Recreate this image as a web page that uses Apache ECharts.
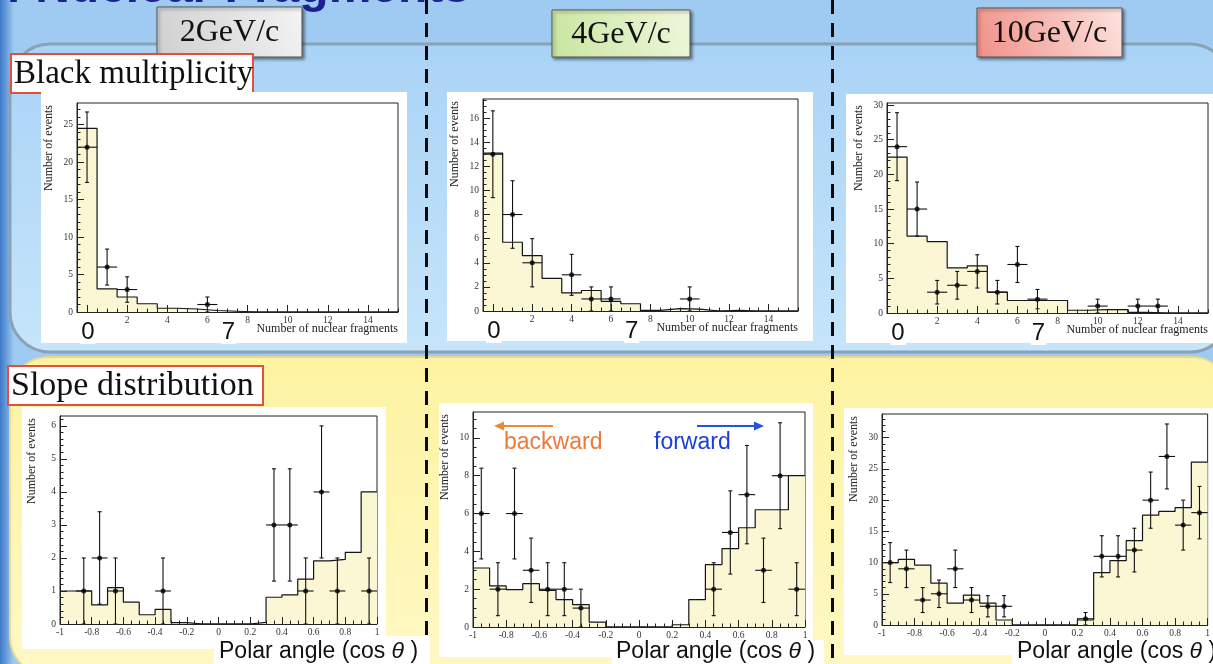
<!DOCTYPE html>
<html><head><meta charset="utf-8">
<script src="https://cdn.jsdelivr.net/npm/echarts@6/dist/echarts.min.js"></script>
<style>html,body{margin:0;padding:0;background:#9fcaf2;}#c{width:1213px;height:664px;}</style>
</head><body><div id="c"></div>
<script>
// ---------------- DATA ----------------
// Black multiplicity: bins of the number of nuclear fragments
const multBins = [0,1,2,3,4,5,6,7,8,9,10,11,12,13,14,15];
const mc2GeV  = [24.5,3.1,2.0,1.1,0.5,0.4,0.2,0.1,0,0,0,0,0,0,0,0];
const mc4GeV  = [13.1,5.7,4.6,2.7,1.5,1.7,0.8,0.6,0.05,0.2,0.15,0,0.05,0,0,0];
const mc10GeV = [22.5,11.1,10.3,6.5,6.8,3.0,1.8,1.8,1.8,0.4,0.5,0.5,0.1,0,0,0];
const obs2GeVX = [0,1,2,6];
const obs2GeVY = [22,6,3,1];
const obs2GeVErr = [4.7,2.4,1.7,1.0];
const obs4GeVX = [0,1,2,4,5,6,10];
const obs4GeVY = [13,8,4,3,1,1,1];
const obs4GeVErr = [3.6,2.8,2.0,1.7,1.0,1.0,1.0];
const obs10GeVX = [0,1,2,3,4,5,6,7,10,12,13];
const obs10GeVY = [24,15,3,4,6,3,7,2,1,1,1];
const obs10GeVErr = [4.9,3.9,1.7,2.0,2.4,1.7,2.6,1.4,1.0,1.0,1.0];

// Slope distribution: bins of cos(theta)
const cosBins = [-0.95,-0.85,-0.75,-0.65,-0.55,-0.45,-0.35,-0.25,-0.15,-0.05,0.05,0.15,0.25,0.35,0.45,0.55,0.65,0.75,0.85,0.95];
const slope2GeV  = [1.0,1.0,0.58,1.1,0.66,0.28,0.44,0.04,0,0,0,0,0.05,0.81,0.88,1.36,1.91,1.96,2.17,4.0];
const slope4GeV  = [3.12,2.17,1.98,2.29,1.94,1.45,1.18,0.26,0,0,0,0,0.12,1.45,3.3,4.15,5.25,6.2,6.2,8.0];
const slope10GeV = [10.0,10.5,9.6,6.7,3.5,4.8,3.5,0.8,0,0,0,0,0.8,8.4,10.3,13.5,17.6,18.2,18.8,26.1];
const sObs2GeVX = [-0.85,-0.75,-0.65,-0.35,0.35,0.45,0.55,0.65,0.75,0.95];
const sObs2GeVY = [1,2,1,1,3,3,1,4,1,1];
const sObs2GeVErr = [1,1.4,1,1,1.7,1.7,1,2,1,1];
const sObs4GeVX = [-0.95,-0.85,-0.75,-0.65,-0.55,-0.45,-0.35,0.45,0.55,0.65,0.75,0.85,0.95];
const sObs4GeVY = [6,2,6,3,2,2,1,2,5,7,3,8,2];
const sObs4GeVErr = [2.4,1.4,2.4,1.7,1.4,1.4,1,1.4,2.2,2.6,1.7,2.8,1.4];
const sObs10GeVX = [-0.95,-0.85,-0.75,-0.65,-0.55,-0.45,-0.35,-0.25,0.25,0.35,0.45,0.55,0.65,0.75,0.85,0.95];
const sObs10GeVY = [10,9,4,5,9,4,3,3,1,11,11,12,20,27,16,18];
const sObs10GeVErr = [3.2,3.0,2.0,2.2,3.0,2.0,1.7,1.7,1.0,3.3,3.3,3.5,4.5,5.2,4.0,4.2];

// Tick labels
const multXTicks = [0,2,4,6,8,10,12,14];
const multXLabels = [2,4,6,8,10,12,14];
const cosXTicks = [-1,-0.8,-0.6,-0.4,-0.2,0,0.2,0.4,0.6,0.8,1];
const cosXLabels = [-1,-0.8,-0.6,-0.4,-0.2,0,0.2,0.4,0.6,0.8,1];
const yTicks2GeV = [0,5,10,15,20,25];
const yTicks4GeV = [0,2,4,6,8,10,12,14,16];
const yTicks10GeV = [0,5,10,15,20,25,30];
const yTicksS2GeV = [0,1,2,3,4,5,6];
const yTicksS4GeV = [0,2,4,6,8,10];
const yTicksS10GeV = [0,5,10,15,20,25,30];
const bigMarks = [0,7];
const energyLabels = ['2GeV/c','4GeV/c','10GeV/c'];

// ---------------- LAYOUT ----------------
const panels = [
  {g:{left:77,top:103,width:321,height:209}, white:[41,92,366,251], xr:[-0.5,15.5], yMax:27.9, xMinor:0.5, yMinor:1,
   bins:multBins, w:1, mc:mc2GeV, ox:obs2GeVX, oy:obs2GeVY, oe:obs2GeVErr, xt:multXTicks, xl:multXLabels, yt:yTicks2GeV, kind:'m'},
  {g:{left:483,top:99,width:315,height:212}, white:[447,92,366,249], xr:[-0.5,15.5], yMax:17.58, xMinor:0.5, yMinor:0.5,
   bins:multBins, w:1, mc:mc4GeV, ox:obs4GeVX, oy:obs4GeVY, oe:obs4GeVErr, xt:multXTicks, xl:multXLabels, yt:yTicks4GeV, kind:'m'},
  {g:{left:887,top:103,width:321,height:210}, white:[846,94,367,249], xr:[-0.5,15.5], yMax:30.3, xMinor:0.5, yMinor:1,
   bins:multBins, w:1, mc:mc10GeV, ox:obs10GeVX, oy:obs10GeVY, oe:obs10GeVErr, xt:multXTicks, xl:multXLabels, yt:yTicks10GeV, kind:'m'},
  {g:{left:60,top:416,width:317,height:208}, white:[22,407,364,242], xr:[-1,1], yMax:6.3, xMinor:0.05, yMinor:0.2,
   bins:cosBins, w:0.1, mc:slope2GeV, ox:sObs2GeVX, oy:sObs2GeVY, oe:sObs2GeVErr, xt:cosXTicks, xl:cosXLabels, yt:yTicksS2GeV, kind:'s', lab:[214,636,216,28], labX:219},
  {g:{left:473,top:412,width:332,height:215}, white:[439,403,374,254], xr:[-1,1], yMax:11.37, xMinor:0.05, yMinor:0.5,
   bins:cosBins, w:0.1, mc:slope4GeV, ox:sObs4GeVX, oy:sObs4GeVY, oe:sObs4GeVErr, xt:cosXTicks, xl:cosXLabels, yt:yTicksS4GeV, kind:'s', lab:[612,640,212,24], labX:616},
  {g:{left:882,top:414,width:326,height:211}, white:[844,408,369,247], xr:[-1,1], yMax:33.8, xMinor:0.05, yMinor:1,
   bins:cosBins, w:0.1, mc:slope10GeV, ox:sObs10GeVX, oy:sObs10GeVY, oe:sObs10GeVErr, xt:cosXTicks, xl:cosXLabels, yt:yTicksS10GeV, kind:'s', lab:[1012,638,201,26], labX:1017}
];

const SERIF = '"Liberation Serif","DejaVu Serif",serif';
const SANS = '"Liberation Sans",Arial,sans-serif';

function range(a, b, step) { const r = []; const n = Math.round((b - a) / step); for (let k = 0; k <= n; k++) r.push(+(a + k * step).toFixed(4)); return r; }
function stepData(centers, vals, w) { const d = []; centers.forEach((c, i) => { d.push([c - w / 2, vals[i]]); d.push([c + w / 2, vals[i]]); }); return d; }

const grids = [], xAxes = [], yAxes = [], series = [], graphics = [];

// slide background decorations
graphics.push({type:'rect', z:-30, shape:{x:0,y:0,width:14,height:664},
  style:{fill:new echarts.graphic.LinearGradient(0,0,1,0,[{offset:0,color:'#3b78c6'},{offset:1,color:'#9fcaf2'}])}});
graphics.push({type:'rect', z:-29, shape:{x:10,y:44,width:1220,height:308,r:40},
  style:{fill:new echarts.graphic.LinearGradient(0,0,0,1,[{offset:0,color:'#a9d3f6'},{offset:1,color:'#c6e5fb'}]), stroke:'#8aa2b6', lineWidth:3}});
graphics.push({type:'rect', z:-28, shape:{x:10,y:357,width:1220,height:318,r:38},
  style:{fill:new echarts.graphic.LinearGradient(0,0,0,1,[{offset:0,color:'#fdf3a2'},{offset:1,color:'#fff8c4'}]), stroke:'#e4da94', lineWidth:2}});
[426.5, 832.5].forEach(x => graphics.push({type:'line', z:-20, shape:{x1:x,y1:0,x2:x,y2:664},
  style:{stroke:'#0a0a0a', lineWidth:3, lineDash:[14,9]}}));

// title (cut off at the top of the slide)
graphics.push({type:'text', z:-19, style:{text:'Angular Distributions of Nuclear Fragments', x:470, y:13, textAlign:'right', textVerticalAlign:'bottom',
  font:'bold 48px ' + SANS, fill:'#1c2390'}});

// energy labels
const eBoxes = [[157,7,145,50,'#cfcfcf','#f3f3f3'],[552,10,138,47,'#c9e5a0','#eef8dc'],[977,8,145,49,'#f09088','#fde2de']];
energyLabels.forEach((t, i) => {
  const b = eBoxes[i];
  graphics.push({type:'rect', z:-10, shape:{x:b[0],y:b[1],width:b[2],height:b[3]},
    style:{fill:new echarts.graphic.LinearGradient(0,1,1,0,[{offset:0,color:b[4]},{offset:1,color:b[5]}]), stroke:'#555', lineWidth:1,
      shadowBlur:3, shadowOffsetX:2, shadowOffsetY:2, shadowColor:'rgba(0,0,0,0.45)'}});
  graphics.push({type:'text', z:-9, style:{text:t, x:b[0]+b[2]/2, y:b[1]+b[3]/2+1, textAlign:'center', textVerticalAlign:'middle',
    font:'32px ' + SERIF, fill:'#111'}});
});

// section labels
[['Black multiplicity',11,54,242,39,33],['Slope distribution',8,366,255,39,34]].forEach(s => {
  graphics.push({type:'rect', z:-10, shape:{x:s[1],y:s[2],width:s[3],height:s[4]}, style:{fill:'#fff', stroke:'#e0503c', lineWidth:2}});
  graphics.push({type:'text', z:-9, style:{text:s[0], x:s[1]+3, y:s[2]+s[4]/2+1, textAlign:'left', textVerticalAlign:'middle',
    font:s[5] + 'px ' + SERIF, fill:'#111'}});
});

panels.forEach((p, i) => {
  grids.push(Object.assign({show:true, borderColor:'#222', borderWidth:1, backgroundColor:'transparent'}, p.g));
  const wb = p.white;
  graphics.push({type:'rect', z:-8, shape:{x:wb[0],y:wb[1],width:wb[2],height:wb[3]}, style:{fill:'#fff'}});
  if (p.lab) graphics.push({type:'rect', z:-8, shape:{x:p.lab[0],y:p.lab[1],width:p.lab[2],height:p.lab[3]}, style:{fill:'#fff'}});

  const xi = xAxes.length, yi = yAxes.length;
  const labelStyle = {fontFamily:SERIF, fontSize:9.5, color:'#333'};
  xAxes.push({type:'value', gridIndex:i, min:p.xr[0], max:p.xr[1], position:'bottom', z:5,
    axisLine:{show:true, onZero:false, lineStyle:{color:'#222', width:1}},
    axisTick:{show:true, inside:true, length:7, customValues:p.xt, lineStyle:{color:'#222', width:1}},
    axisLabel:Object.assign({show:true, customValues:p.xl, margin:3, formatter:v => String(v)}, labelStyle),
    splitLine:{show:false}});
  xAxes.push({type:'value', gridIndex:i, min:p.xr[0], max:p.xr[1], position:'bottom', offset:0, z:5,
    axisLine:{show:false, onZero:false}, axisLabel:{show:false}, splitLine:{show:false},
    axisTick:{show:true, inside:true, length:3.5, customValues:range(p.xr[0], p.xr[1], p.xMinor), lineStyle:{color:'#222', width:1}}});
  yAxes.push({type:'value', gridIndex:i, min:0, max:p.yMax, position:'left', z:5,
    axisLine:{show:true, onZero:false, lineStyle:{color:'#222', width:1}},
    axisTick:{show:true, inside:true, length:7, customValues:p.yt, lineStyle:{color:'#222', width:1}},
    axisLabel:Object.assign({show:true, customValues:p.yt, margin:4, formatter:v => String(v)}, labelStyle),
    splitLine:{show:false}});
  yAxes.push({type:'value', gridIndex:i, min:0, max:p.yMax, position:'left', offset:0, z:5,
    axisLine:{show:false, onZero:false}, axisLabel:{show:false}, splitLine:{show:false},
    axisTick:{show:true, inside:true, length:3.5, customValues:range(0, Math.floor(p.yMax / p.yMinor) * p.yMinor, p.yMinor), lineStyle:{color:'#222', width:1}}});

  // MC histogram (filled step outline)
  series.push({type:'line', xAxisIndex:xi, yAxisIndex:yi, data:stepData(p.bins, p.mc, p.w), showSymbol:false, symbol:'none',
    lineStyle:{color:'#151515', width:1.2}, areaStyle:{color:'#fbf6d4', opacity:1}, z:2, silent:true});
  // error bars
  const hw = p.w / 2;
  series.push({type:'custom', xAxisIndex:xi, yAxisIndex:yi, z:3, silent:true,
    data:p.ox.map((x, k) => [x, p.oy[k], p.oe[k]]),
    renderItem:(params, api) => {
      const x = api.value(0), y = api.value(1), e = api.value(2);
      const t = api.coord([x, y + e]), b = api.coord([x, Math.max(0, y - e)]);
      const l = api.coord([x - hw, y]), r = api.coord([x + hw, y]);
      const st = {stroke:'#111', lineWidth:1.1};
      return {type:'group', children:[
        {type:'line', shape:{x1:t[0],y1:t[1],x2:b[0],y2:b[1]}, style:st},
        {type:'line', shape:{x1:l[0],y1:l[1],x2:r[0],y2:r[1]}, style:st},
        {type:'line', shape:{x1:t[0]-2,y1:t[1],x2:t[0]+2,y2:t[1]}, style:st},
        {type:'line', shape:{x1:b[0]-2,y1:b[1],x2:b[0]+2,y2:b[1]}, style:st}
      ]};
    }});
  // data points
  series.push({type:'scatter', xAxisIndex:xi, yAxisIndex:yi, z:4, symbol:'circle', symbolSize:5, silent:true,
    itemStyle:{color:'#000'}, data:p.ox.map((x, k) => [x, p.oy[k]])});

  // axis titles
  const g = p.g;
  graphics.push({type:'text', z:10, x:g.left - 28, y:g.top + 2, rotation:Math.PI / 2,
    style:{text:'Number of events', x:0, y:0, textAlign:'right', textVerticalAlign:'middle', font:'12px ' + SERIF, fill:'#222'}});
  if (p.kind === 'm') {
    graphics.push({type:'text', z:10, style:{text:'Number of nuclear fragments', x:g.left + g.width, y:g.top + g.height + 17,
      textAlign:'right', textVerticalAlign:'middle', font:'12px ' + SERIF, fill:'#222'}});
    bigMarks.forEach(v => {
      const px = g.left + (v - p.xr[0]) / (p.xr[1] - p.xr[0]) * g.width;
      graphics.push({type:'text', z:11, style:{text:String(v), x:px + 1, y:g.top + g.height + 20, textAlign:'center', textVerticalAlign:'middle',
        font:'24px ' + SANS, fill:'#111', backgroundColor:'#fff', padding:[0,1]}});
    });
  } else {
    graphics.push({type:'text', z:11, style:{text:'{a|Polar angle (cos }{t|θ}{a| )}', x:p.labX, y:652, textAlign:'left', textVerticalAlign:'middle',
      rich:{a:{font:'23px ' + SANS, fill:'#111'}, t:{font:'italic 23px ' + SANS, fill:'#111'}}}});
  }
});

// backward / forward annotations in the 4 GeV/c slope plot
graphics.push({type:'line', z:12, shape:{x1:553,y1:426,x2:500,y2:426}, style:{stroke:'#f08a30', lineWidth:2}});
graphics.push({type:'polygon', z:12, shape:{points:[[494,426],[504,421.5],[504,430.5]]}, style:{fill:'#f08a30'}});
graphics.push({type:'text', z:12, style:{text:'backward', x:504, y:443, textAlign:'left', textVerticalAlign:'middle', font:'23px ' + SANS, fill:'#ec7a38'}});
graphics.push({type:'line', z:12, shape:{x1:697,y1:426,x2:758,y2:426}, style:{stroke:'#1f55e0', lineWidth:2}});
graphics.push({type:'polygon', z:12, shape:{points:[[764,426],[754,421.5],[754,430.5]]}, style:{fill:'#1f55e0'}});
graphics.push({type:'text', z:12, style:{text:'forward', x:654, y:443, textAlign:'left', textVerticalAlign:'middle', font:'23px ' + SANS, fill:'#1a3edc'}});

const chart = echarts.init(document.getElementById('c'), null, {renderer:'canvas'});
chart.setOption({
  backgroundColor:'#9fcaf2',
  animation:false,
  grid:grids, xAxis:xAxes, yAxis:yAxes, series:series,
  graphic:{elements:graphics}
});
</script></body></html>
